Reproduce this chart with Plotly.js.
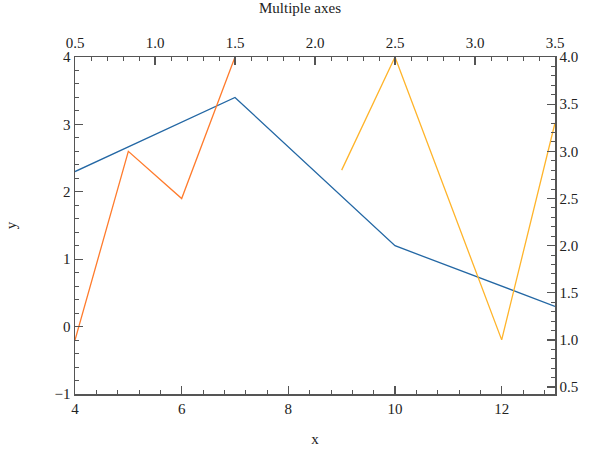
<!DOCTYPE html>
<html>
<head>
<meta charset="utf-8">
<script src="https://cdn.plot.ly/plotly-3.0.1.min.js"></script>
<style>
    html, body { margin: 0; padding: 0; background: #fff; }
    #chart { width: 600px; height: 450px; }
</style>
</head>
<body>
<div id="chart"></div>
<script>
// series on bottom x / left y
const blueX = [4, 7, 10, 13];
const blueY = [2.3, 3.4, 1.2, 0.3];

const orangeX = [4, 5, 6, 7];
const orangeY = [-0.2, 2.6, 1.9, 4.0];

// series on bottom x / right y
const yellowX = [9, 10, 12, 13];
const yellowY = [2.8, 4.0, 1.0, 3.3];

const titleText = "Multiple axes";

const axisColor = "#555";
const fontFace = "Liberation Serif, DejaVu Serif, serif";

function axisStyle(extra) {
    return Object.assign({
        showline: true,
        linecolor: axisColor,
        linewidth: 1.5,
        showgrid: false,
        zeroline: false,
        ticks: "inside",
        ticklen: 8,
        tickwidth: 1.3,
        tickcolor: axisColor,
        tickfont: { family: fontFace, size: 15, color: "#222" },
        minor: {
            ticks: "inside",
            ticklen: 4,
            tickwidth: 1,
            tickcolor: axisColor,
            showgrid: false
        }
    }, extra);
}

const traces = [
    {
        x: blueX, y: blueY,
        type: "scatter", mode: "lines",
        line: { color: "#2367a4", width: 1.3 },
        xaxis: "x", yaxis: "y"
    },
    {
        x: orangeX, y: orangeY,
        type: "scatter", mode: "lines",
        line: { color: "#ff7b2c", width: 1.3 },
        xaxis: "x", yaxis: "y"
    },
    {
        x: yellowX, y: yellowY,
        type: "scatter", mode: "lines",
        line: { color: "#ffb42a", width: 1.3 },
        xaxis: "x", yaxis: "y2"
    },
    {
        // empty trace so the top axis gets drawn
        x: [], y: [],
        type: "scatter", mode: "lines",
        xaxis: "x2", yaxis: "y",
        hoverinfo: "skip"
    }
];

const layout = {
    width: 600,
    height: 450,
    paper_bgcolor: "#fff",
    plot_bgcolor: "#fff",
    showlegend: false,
    font: { family: fontFace, size: 15, color: "#222" },
    margin: { t: 57, r: 45, b: 56, l: 75 },

    title: {
        text: titleText,
        x: 0.5,
        xanchor: "center",
        y: 0.995,
        yanchor: "top",
        font: { family: fontFace, size: 15, color: "#222" }
    },

    xaxis: axisStyle({
        range: [4, 13],
        dtick: 2,
        tick0: 4,
        minor: Object.assign(axisStyle().minor, { dtick: 0.4, tick0: 4 }),
        title: { text: "x", font: { family: fontFace, size: 15 }, standoff: 18 },
        anchor: "y"
    }),

    xaxis2: axisStyle({
        range: [0.5, 3.5],
        dtick: 0.5,
        tick0: 0.5,
        tickformat: ".1f",
        ticklabelstandoff: 2,
        minor: Object.assign(axisStyle().minor, { dtick: 0.1, tick0: 0.5 }),
        overlaying: "x",
        side: "top",
        anchor: "y"
    }),

    yaxis: axisStyle({
        range: [-1, 4],
        dtick: 1,
        tick0: -1,
        minor: Object.assign(axisStyle().minor, { dtick: 0.2, tick0: -1 }),
        title: { text: "y", font: { family: fontFace, size: 15 }, standoff: 34 },
        anchor: "x"
    }),

    yaxis2: axisStyle({
        range: [0.426, 4.0],
        dtick: 0.5,
        tick0: 0.5,
        tickformat: ".1f",
        minor: Object.assign(axisStyle().minor, { dtick: 0.1, tick0: 0.5 }),
        overlaying: "y",
        side: "right",
        anchor: "x"
    })
};

Plotly.newPlot("chart", traces, layout, {
    displayModeBar: false,
    staticPlot: true
});
</script>
</body>
</html>
